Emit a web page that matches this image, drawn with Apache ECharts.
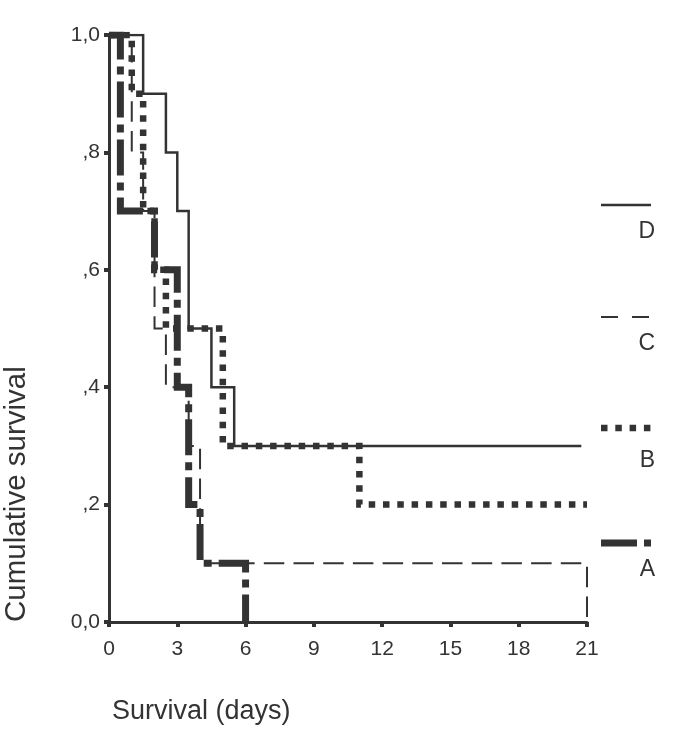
<!DOCTYPE html>
<html>
<head>
<meta charset="utf-8">
<script src="https://cdn.jsdelivr.net/npm/echarts@6/dist/echarts.min.js"></script>
<style>
html,body{margin:0;padding:0;background:#fff;}
#chart{width:685px;height:746px;}
</style>
</head>
<body>
<div id="chart"></div>
<script>
// Kaplan-Meier step data: [day, cumulative survival]
var groupNames = ['A', 'B', 'C', 'D'];
var seriesA = [[0,1.0],[0.5,0.7],[2,0.6],[3,0.4],[3.5,0.2],[4,0.1],[6,0.0]];
var seriesB = [[0,1.0],[1,0.9],[1.5,0.7],[2,0.6],[2.5,0.5],[5,0.3],[11,0.2],[21,0.2]];
var seriesC = [[0,1.0],[1,0.8],[1.5,0.7],[2,0.5],[2.5,0.4],[3.5,0.3],[4,0.1],[21,0.0]];
var seriesD = [[0,1.0],[1.5,0.9],[2.5,0.8],[3,0.7],[3.5,0.5],[4.5,0.4],[5.5,0.3],[20.75,0.3]];
var xTicks = [0, 3, 6, 9, 12, 15, 18, 21];
var yTickLabels = ['0,0', ',2', ',4', ',6', ',8', '1,0'];
var xTitle = 'Survival (days)';
var yTitle = 'Cumulative survival';

var ink = '#333333';
var font = '"Liberation Sans", Arial, Helvetica, sans-serif';

var styles = {
  A: {width: 7, type: [36, 7, 8, 7]},
  B: {width: 6.5, type: [6.5, 7.8]},
  C: {width: 2, type: [20.5, 9.2]},
  D: {width: 2.5, type: 'solid'}
};
var dataMap = {A: seriesA, B: seriesB, C: seriesC, D: seriesD};
var zMap = {A: 5, B: 4, C: 3, D: 2};

var chart = echarts.init(document.getElementById('chart'), null, {renderer: 'canvas'});

var series = groupNames.map(function (g) {
  return {
    name: g,
    type: 'line',
    step: 'end',
    data: dataMap[g],
    symbol: 'none',
    z: zMap[g],
    lineStyle: {color: ink, width: styles[g].width, type: styles[g].type, cap: 'butt', join: 'miter'},
    animation: false
  };
});

// legend (sample above label, right aligned)
var legendRows = [
  {g: 'D', y: 205, ty: 232},
  {g: 'C', y: 317, ty: 344},
  {g: 'B', y: 428, ty: 461},
  {g: 'A', y: 543, ty: 570}
];
var legendDash = {A: [36, 7, 8, 7], B: [6.5, 7.8], C: [17, 14], D: null};
var graphics = [];
legendRows.forEach(function (r) {
  graphics.push({
    type: 'line',
    shape: {x1: 601, y1: r.y, x2: 651, y2: r.y},
    style: {stroke: ink, lineWidth: styles[r.g].width, lineDash: legendDash[r.g], lineCap: 'butt'}
  });
  graphics.push({
    type: 'text',
    x: 655, y: r.ty,
    style: {text: r.g, fill: ink, font: '23px ' + font, textAlign: 'right', textVerticalAlign: 'middle'}
  });
});
graphics.push({
  type: 'text',
  x: 112, y: 712,
  style: {text: xTitle, fill: ink, font: '27px ' + font, textAlign: 'left', textVerticalAlign: 'middle'}
});
graphics.push({
  type: 'text',
  x: 17, y: 622,
  rotation: Math.PI / 2,
  style: {text: yTitle, fill: ink, font: '29.5px ' + font, textAlign: 'left', textVerticalAlign: 'middle'}
});

chart.setOption({
  animation: false,
  backgroundColor: '#ffffff',
  grid: {left: 109, top: 35, width: 478, height: 587, containLabel: false},
  xAxis: {
    type: 'value', min: xTicks[0], max: xTicks[xTicks.length - 1], interval: 3,
    offset: 4,
    axisLine: {lineStyle: {color: ink, width: 3}},
    axisTick: {show: true, length: 5, lineStyle: {color: ink, width: 4}},
    axisLabel: {color: ink, fontSize: 21, fontFamily: font, margin: 13},
    splitLine: {show: false}
  },
  yAxis: {
    type: 'value', min: 0, max: 1, interval: 0.2,
    offset: 1,
    axisLine: {show: true, lineStyle: {color: ink, width: 3}},
    axisTick: {show: true, length: 5, lineStyle: {color: ink, width: 4}},
    axisLabel: {
      color: ink, fontSize: 21, fontFamily: font, margin: 8,
      formatter: function (v) { return yTickLabels[Math.round(v / 0.2)]; }
    },
    splitLine: {show: false}
  },
  series: series,
  graphic: graphics
});
</script>
</body>
</html>
